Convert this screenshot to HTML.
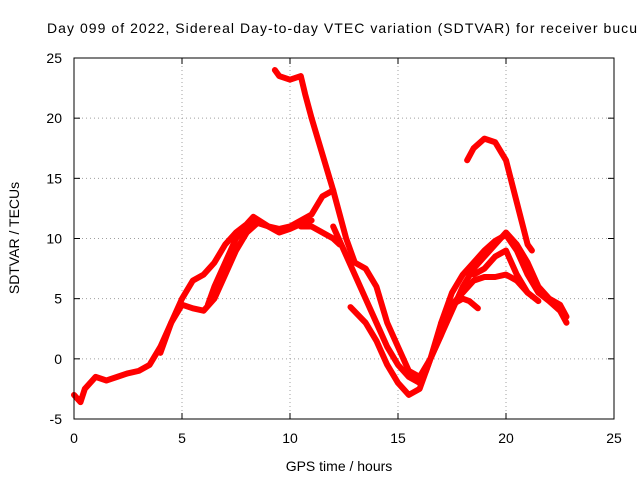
<!DOCTYPE html>
<html><head><meta charset="utf-8"><style>
body{margin:0;background:#fff;}
svg text{font-family:"Liberation Sans",sans-serif;font-size:14px;fill:#000;}
</style></head><body>
<svg id="chart" width="640" height="480" viewBox="0 0 640 480" xmlns="http://www.w3.org/2000/svg">
<text x="47" y="33" textLength="590" lengthAdjust="spacing">Day 099 of 2022, Sidereal Day-to-day VTEC variation (SDTVAR) for receiver bucu</text>
<g id="grid"></g>
<g id="series"></g>
<rect x="74" y="58" width="540" height="361" fill="none" stroke="#000" stroke-width="1"/>
<g id="ticks"></g>
<text x="339" y="471" text-anchor="middle">GPS time / hours</text>
<text transform="translate(19,238) rotate(-90)" text-anchor="middle">SDTVAR / TECUs</text>
</svg>
<script>
const xTicks=[0,5,10,15,20,25];
const yTicks=[-5,0,5,10,15,20,25];
const curveA=[[0,-3],[0.3,-3.6],[0.5,-2.5],[1,-1.5],[1.5,-1.8],[2,-1.5],[2.5,-1.2],[3,-1],[3.5,-0.5],[4,1],[4.5,3],[5,5],[5.5,6.5],[6,7],[6.5,8],[7,9.5],[7.5,10.5],[8,11.2],[8.3,11.8],[9,11],[9.5,10.8],[10,11],[10.5,11.5],[11,12],[11.5,13.5],[12,14]];
const curveB=[[4,0.5],[4.5,3],[5,4.5],[5.5,4.2],[6,4],[6.5,5],[7,7],[7.5,9],[8,10.5],[8.5,11.3],[9,11],[9.5,10.5],[10,10.8],[10.5,11.2],[11,11.5]];
const curveC=[[9.3,24],[9.5,23.5],[10,23.2],[10.5,23.5],[10.7,22],[11,20],[11.5,17],[12,14],[12.3,12],[12.6,10],[13,8],[13.5,7.5],[14,6],[14.5,3],[15,1],[15.5,-1],[16,-1.5],[16.5,0],[17,2],[17.5,4],[18,6],[18.5,7.5],[19,8.5],[19.5,9.5],[20,10.5],[20.5,9.5],[21,8],[21.5,6],[22,5],[22.5,4.5],[22.8,3.5]];
const curveD=[[12,11],[12.5,9],[13,7],[13.5,5],[14,3],[14.5,1],[15,-0.5],[15.5,-1.5],[16,-2],[16.3,-1],[16.5,0],[17,3],[17.5,5.5],[18,7],[18.5,8],[19,9],[19.5,9.8],[20,10.3],[20.5,9],[21,7],[21.5,5.5],[22,4.8],[22.5,4],[22.8,3]];
const curveE=[[10.5,11],[11,11],[11.5,10.5],[12,10],[12.3,9.5]];
const curveF=[[12.8,4.3],[13.5,3],[14,1.5],[14.5,-0.5],[15,-2],[15.5,-3],[16,-2.5],[16.5,0],[17,2],[17.5,4.5],[18,5.5],[18.5,6.5],[19,6.8],[19.5,6.8],[20,7],[20.5,6.5],[21,5.5],[21.5,4.8]];
const curveG=[[18.2,16.5],[18.5,17.5],[19,18.3],[19.5,18],[20,16.5],[20.5,13],[21,9.5],[21.2,9]];
const curveH=[[17,3],[17.5,4.5],[18,5],[18.3,4.8],[18.7,4.2]];
const curveI=[[6.2,4.5],[6.5,6],[7,8],[7.5,10],[8,11],[8.5,11.5]];
const curveJ=[[18.5,7],[19,7.5],[19.5,8.5],[20,9],[20.5,7],[21,5.5]];
const curves=[curveA,curveB,curveC,curveD,curveE,curveF,curveG,curveH,curveI,curveJ];
const NS="http://www.w3.org/2000/svg";
const X0=74,X1=614,Y0=419,Y1=58;
function xs(v){return X0+(v-0)/(25-0)*(X1-X0);}
function ys(v){return Y0-(v+5)/30*(Y0-Y1);}
const grid=document.getElementById('grid'),ticks=document.getElementById('ticks'),series=document.getElementById('series');
function mk(tag,attrs,parent){const e=document.createElementNS(NS,tag);for(const k in attrs)e.setAttribute(k,attrs[k]);parent.appendChild(e);return e;}
xTicks.forEach(t=>{
 const x=xs(t);
 if(t>0&&t<25){const g=mk('line',{x1:x,x2:x,y1:Y1,y2:Y0,stroke:'#a0a0a0','stroke-dasharray':'1,3'},grid);
 
 }
 mk('line',{x1:x,x2:x,y1:Y0,y2:Y0-6,stroke:'#000'},ticks);
 mk('line',{x1:x,x2:x,y1:Y1,y2:Y1+6,stroke:'#000'},ticks);
 const l=mk('text',{x:x,y:Y0+24,'text-anchor':'middle'},ticks);l.textContent=t;
 
 
});
yTicks.forEach(t=>{
 const y=ys(t);
 if(t>-5&&t<25){const g=mk('line',{x1:X0,x2:X1,y1:y,y2:y,stroke:'#a0a0a0','stroke-dasharray':'1,3'},grid);
 
 }
 mk('line',{x1:X0,x2:X0+6,y1:y,y2:y,stroke:'#000'},ticks);
 mk('line',{x1:X1,x2:X1-6,y1:y,y2:y,stroke:'#000'},ticks);
 const l=mk('text',{x:X0-12,y:y+5,'text-anchor':'end'},ticks);l.textContent=t;
 
 
});
curves.forEach((c,i)=>{
 const p=mk('polyline',{points:c.map(d=>xs(d[0])+','+ys(d[1])).join(' '),fill:'none',stroke:'#ff0000','stroke-width':6,'stroke-linejoin':'round','stroke-linecap':'round'},series);
 
 
});
</script>
</body></html>
